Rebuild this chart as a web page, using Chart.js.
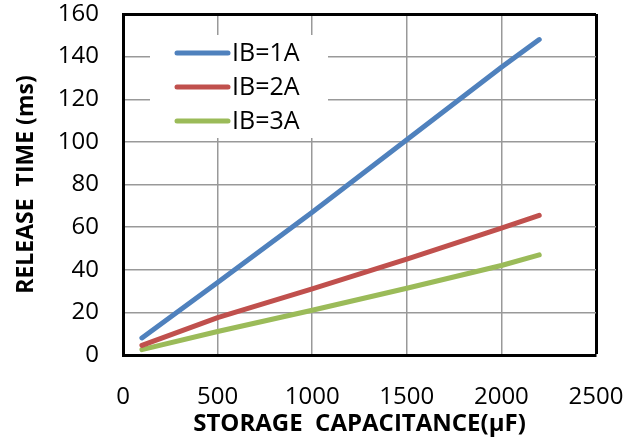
<!DOCTYPE html>
<html>
<head>
<meta charset="utf-8">
<title>Release time vs storage capacitance</title>
<script src="https://cdn.jsdelivr.net/npm/chart.js@4.4.1/dist/chart.umd.min.js"></script>
<style>
  html, body { margin: 0; padding: 0; background: #fff; }
  #wrap { width: 638px; height: 440px; }
</style>
</head>
<body>
<div id="wrap"><canvas id="releaseChart" width="638" height="440"></canvas></div>
<script>
// values
const capacitance = [100, 500, 1000, 1500, 2000, 2200];
const ib1 = [8, 34, 67, 101, 135, 148];
const ib2 = [4.5, 17.5, 31, 45, 59.5, 65.5];
const ib3 = [2.5, 11, 21, 31.3, 42, 47];
const seriesLabels = ['IB=1A', 'IB=2A', 'IB=3A'];
const seriesColors = ['#4F81BD', '#C0504D', '#9BBB59'];
const xRange = [0, 2500, 500];
const yRange = [0, 160, 20];

const FONT = "'Open Sans', 'Noto Sans', sans-serif";

function toPoints(ys) {
  return capacitance.map((x, i) => ({ x: x, y: ys[i] }));
}

// legend drawn inside the plot on a white box, like the original
const insideLegend = {
  id: 'insideLegend',
  beforeDatasetsDraw(chart) {
    const { ctx, chartArea } = chart;
    const bx = chartArea.left + 27, by = chartArea.top + 21;
    ctx.save();
    ctx.fillStyle = '#fff';
    ctx.fillRect(bx, by, 178, 103);
    ctx.font = "25px " + FONT;
    ctx.textBaseline = 'middle';
    ctx.textAlign = 'left';
    chart.data.datasets.forEach((ds, i) => {
      const rowY = by + 18 + i * 34;
      ctx.strokeStyle = ds.borderColor;
      ctx.lineWidth = 5;
      ctx.lineCap = 'round';
      ctx.beginPath();
      ctx.moveTo(bx + 27, rowY);
      ctx.lineTo(bx + 78, rowY);
      ctx.stroke();
      ctx.fillStyle = '#000';
      ctx.fillText(ds.label, bx + 82, rowY + 1);
    });
    ctx.restore();
  }
};

const ctx = document.getElementById('releaseChart').getContext('2d');
new Chart(ctx, {
  type: 'line',
  data: {
    datasets: [ib1, ib2, ib3].map((ys, i) => ({
      label: seriesLabels[i],
      data: toPoints(ys),
      borderColor: seriesColors[i],
      backgroundColor: seriesColors[i],
      borderWidth: 5,
      borderCapStyle: 'round',
      borderJoinStyle: 'round',
      pointRadius: 0,
      tension: 0,
      fill: false
    }))
  },
  options: {
    responsive: false,
    animation: false,
    layout: { padding: { top: 14, right: 42, left: 0, bottom: 0 } },
    plugins: { legend: { display: false }, tooltip: { enabled: false } },
    scales: {
      x: {
        type: 'linear',
        min: xRange[0], max: xRange[1],
        ticks: {
          stepSize: xRange[2], color: '#000', font: { family: FONT, size: 24 }, padding: 28, maxRotation: 0,
          callback: v => String(v)
        },
        grid: {
          drawTicks: false,
          color: c => (c.tick && c.tick.value === xRange[1]) ? '#000' : '#999',
          lineWidth: c => (c.tick && c.tick.value === xRange[1]) ? 3 : 1.5
        },
        border: { display: true, color: '#000', width: 3 },
        title: {
          display: true,
          text: 'STORAGE  CAPACITANCE(\u03bcF)',
          color: '#000',
          font: { family: FONT, size: 24, weight: 'bold' },
          padding: { top: 0, bottom: 1 }
        },
        afterFit(scale) {
          scale.height = 85;
          scale.paddingLeft = 0;
          scale.paddingRight = 0;
        }
      },
      y: {
        min: yRange[0], max: yRange[1],
        ticks: { stepSize: yRange[2], color: '#000', font: { family: FONT, size: 24 }, padding: 24 },
        grid: {
          drawTicks: false,
          color: c => (c.tick && c.tick.value === yRange[1]) ? '#000' : '#999',
          lineWidth: c => (c.tick && c.tick.value === yRange[1]) ? 3 : 1.5
        },
        border: { display: true, color: '#000', width: 3 },
        title: {
          display: true,
          text: 'RELEASE  TIME (ms)',
          color: '#000',
          font: { family: FONT, size: 23, weight: 'bold' },
          padding: { top: 13, bottom: 0 }
        },
        afterFit(scale) {
          scale.width = 123;
          scale.paddingTop = 0;
          scale.paddingBottom = 0;
        }
      }
    }
  },
  plugins: [insideLegend]
});
</script>
</body>
</html>
